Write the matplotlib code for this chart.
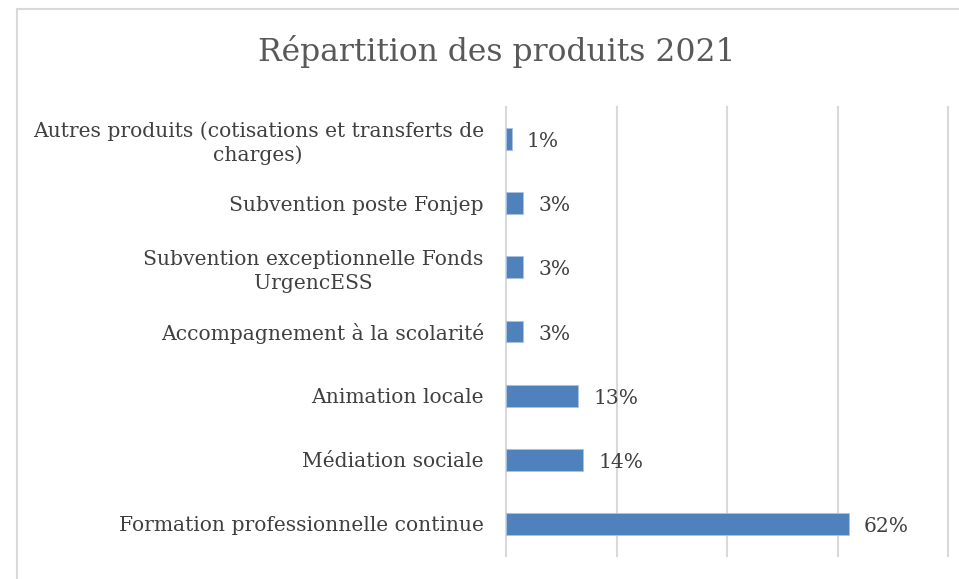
import matplotlib.pyplot as plt
from matplotlib.patches import Rectangle

# donnees
categories = [
    "Autres produits (cotisations et transferts de\ncharges)",
    "Subvention poste Fonjep",
    "Subvention exceptionnelle Fonds\nUrgencESS",
    "Accompagnement à la scolarité",
    "Animation locale",
    "Médiation sociale",
    "Formation professionnelle continue",
]
valeurs = [1, 3, 3, 3, 13, 14, 62]
etiquettes = ["1%", "3%", "3%", "3%", "13%", "14%", "62%"]

plt.rcParams['font.family'] = ['DejaVu Serif']

fig = plt.figure(figsize=(9.59, 5.79), dpi=100)
ax = fig.add_axes([506/959, 1-556/579, (948-506)/959, (556-107)/579])

y = list(range(len(categories)))
ax.barh(y, valeurs, height=0.34, color='#4F81BD', edgecolor='#A9C1E3', linewidth=0.6, zorder=3)
for yi, v, t in zip(y, valeurs, etiquettes):
    ax.text(v + 2.8, yi + 0.04, t, va='center', ha='left', fontsize=14.6, color='#404040')

ax.set_xlim(0, 80)
ax.set_ylim(len(categories) - 0.5, -0.5)
ax.set_xticks([0, 20, 40, 60, 80])
ax.set_xticklabels([])
ax.grid(axis='x', color='#D9D9D9', linewidth=1.5, zorder=0)
for gl in ax.get_xgridlines():
    gl.set_clip_on(False)
ax.set_yticks(y)
ax.set_yticklabels(categories, fontsize=14.6, color='#404040', multialignment='center',
                   linespacing=1.3)
ax.tick_params(length=0, pad=16)
for s in ax.spines.values():
    s.set_visible(False)

fig.text(497/959, 1-52/579, "Répartition des produits 2021", ha='center', va='center',
         fontsize=22.6, color='#595959')

# cadre du graphique
fig.patches.append(Rectangle((17/959, -0.1), 1.2, 1 - 9/579 + 0.1, transform=fig.transFigure,
                             fill=False, edgecolor='#D9D9D9', linewidth=1.5))

fig.savefig('out.png', dpi=100)
